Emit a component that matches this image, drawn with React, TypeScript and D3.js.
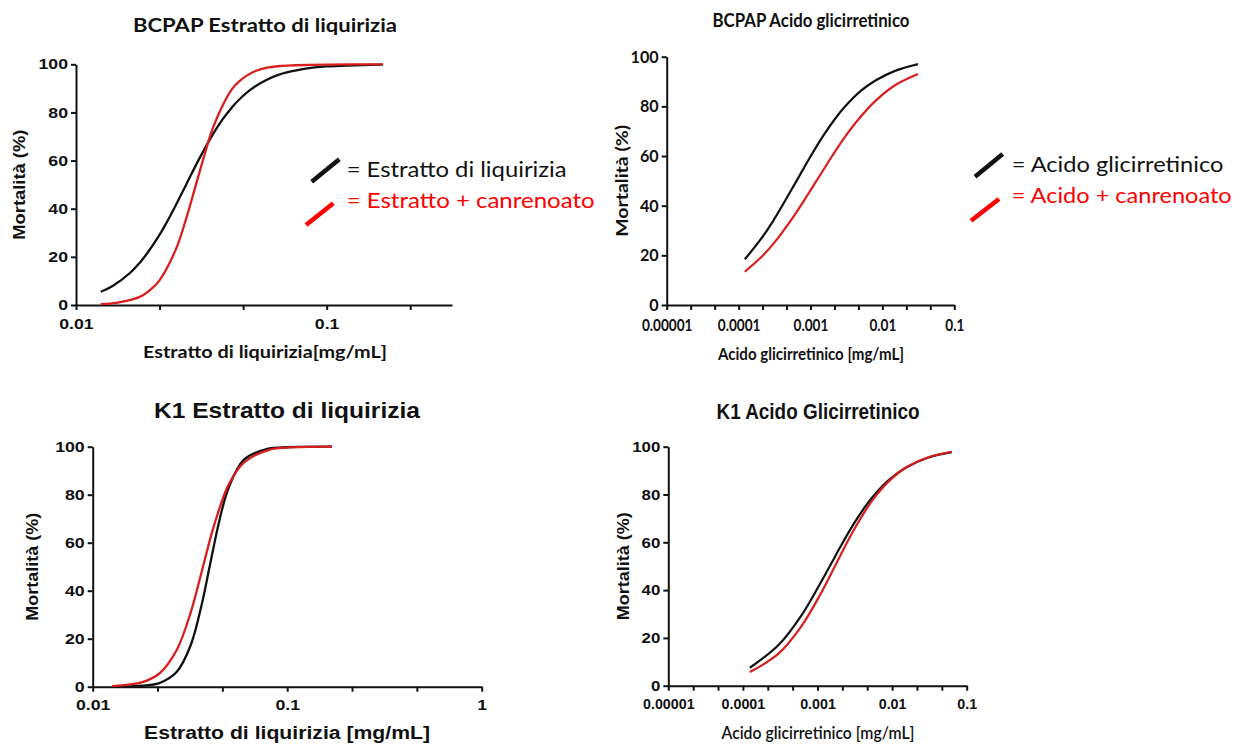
import React from "react";
import * as d3 from "d3";

// BCPAP - Estratto di liquirizia
const bcpapEstrattoConc = [0.01255, 0.014, 0.0165, 0.018, 0.0193, 0.0215, 0.023, 0.0246, 0.0275, 0.031, 0.035, 0.0385, 0.0421, 0.045, 0.05, 0.0572, 0.065, 0.075, 0.085, 0.1, 0.1675];
const bcpapEstrattoMort = [5.5, 7.9, 13.5, 17.7, 21.7, 29, 34.3, 40, 50, 60.7, 70.6, 77.2, 82.4, 85.6, 89.7, 93.4, 95.8, 97.4, 98.4, 99.1, 99.9];
const bcpapEstrattoCanConc = [0.01255, 0.0145, 0.0168, 0.0185, 0.02, 0.02146, 0.025, 0.0275, 0.0301, 0.0325, 0.035, 0.0385, 0.0421, 0.045, 0.048, 0.052, 0.0572, 0.065, 0.075, 0.1, 0.1675];
const bcpapEstrattoCanMort = [0.4, 0.9, 2.3, 4.1, 6.7, 10, 23, 35.8, 50, 62.1, 73, 83, 90, 93.1, 95.3, 97.2, 98.5, 99.3, 99.6, 99.9, 100];

// BCPAP - Acido glicirretinico
const bcpapAcidoConc = [0.000122, 0.0002, 0.0003, 0.00064, 0.001, 0.0015, 0.0022, 0.003, 0.005, 0.008, 0.015, 0.0313];
const bcpapAcidoMort = [18.4, 26.2, 33.7, 50, 59.8, 68.1, 75, 79.8, 86.2, 90.4, 94.3, 97];
const bcpapAcidoCanConc = [0.000122, 0.0002, 0.0003, 0.0006, 0.00121, 0.002, 0.003, 0.0045, 0.008, 0.015, 0.0313];
const bcpapAcidoCanMort = [13.4, 18.9, 24.4, 36.2, 50, 60, 67.6, 74.3, 82.2, 88.5, 93];

// K1 - Estratto di liquirizia
const k1EstrattoConc = [0.0126, 0.018, 0.022, 0.027, 0.032, 0.0365, 0.0399, 0.045, 0.05, 0.06, 0.08, 0.1, 0.17];
const k1EstrattoMort = [0, 0.4, 1.5, 6.1, 17.6, 34.9, 50, 69.9, 82.9, 94.6, 99.2, 99.8, 100];
const k1EstrattoCanConc = [0.0126, 0.018, 0.022, 0.027, 0.032, 0.0369, 0.042, 0.05, 0.06, 0.08, 0.1, 0.17];
const k1EstrattoCanMort = [0.2, 1.9, 5.5, 15.2, 31.3, 50, 67, 84.2, 93.5, 98.6, 99.6, 100];

// K1 - Acido glicirretinico
const k1AcidoConc = [0.000124, 0.0003, 0.0006, 0.00146, 0.002, 0.003, 0.0045, 0.006, 0.009, 0.015, 0.03, 0.063];
const k1AcidoMort = [7.5, 17, 29.1, 50, 57.8, 67.3, 75.5, 80.4, 86, 91.1, 95.4, 97.7];
const k1AcidoCanConc = [0.000124, 0.0003, 0.0006, 0.0011, 0.00171, 0.003, 0.0045, 0.006, 0.009, 0.015, 0.03, 0.063];
const k1AcidoCanMort = [5.7, 13.4, 24.6, 38.4, 50, 64.6, 73.8, 79.3, 85.5, 91.1, 95.5, 97.9];

// ticks
const yTicks = [0, 20, 40, 60, 80, 100];
const estrattoMajor = [0.01, 0.1];
const estrattoLabels = ["0.01", "0.1"];
const k1EstrattoMajor = [0.01, 0.1, 1];
const k1EstrattoLabels = ["0.01", "0.1", "1"];
const acidoMajor = [0.00001, 0.0001, 0.001, 0.01, 0.1];
const acidoLabels = ["0.00001", "0.0001", "0.001", "0.01", "0.1"];

const ARIAL = "'Liberation Sans', Arial, sans-serif";
const CALIBRI = "Lato, 'Open Sans', sans-serif";
const BLACK = "#111111";
const RED = "#d81e1e";

const zip = (a, b) => a.map((v, i) => [v, b[i]]);

const panels = [
  {
    id: "p1",
    left: 76, right: 452, top: 64.3, bottom: 305,
    xDomain: [0.01, Math.pow(10, -0.5)],
    xMajor: estrattoMajor, xLabels: estrattoLabels,
    black: zip(bcpapEstrattoConc, bcpapEstrattoMort),
    red: zip(bcpapEstrattoCanConc, bcpapEstrattoCanMort),
    tickFont: ARIAL, tickSize: 14.5, yStretch: 1.22, xStretch: 1.22, xPad: 9,
    axisWidth: 2, curveWidth: 2.3,
    yLabel: { x: 19, font: ARIAL, size: 16, len: 110 },
    title: { text: "BCPAP Estratto di liquirizia", x: 265, y: 32, w: 264, font: CALIBRI, size: 19, weight: "bold" },
    xTitle: { text: "Estratto di liquirizia[mg/mL]", x: 265, y: 358, w: 244, font: CALIBRI, size: 17, weight: "bold" },
    legend: {
      items: ["= Estratto di liquirizia", "= Estratto + canrenoato"],
      widths: [220, 248],
      lines: [[311.7, 181.7, 339.3, 159.3], [306, 225, 333.3, 203.3]],
      tx: 346.7, ty: [177.3, 208.3], size: 22,
    },
  },
  {
    id: "p2",
    left: 666.7, right: 954.3, top: 56.7, bottom: 305,
    xDomain: [0.00001, 0.1],
    xMajor: acidoMajor, xLabels: acidoLabels,
    black: zip(bcpapAcidoConc, bcpapAcidoMort),
    red: zip(bcpapAcidoCanConc, bcpapAcidoCanMort),
    tickFont: CALIBRI, tickSize: 17, yStretch: 0.95, xStretch: 0.8, xPad: 9,
    axisWidth: 2, curveWidth: 2.2,
    yLabel: { x: 622, font: CALIBRI, size: 17, len: 112 },
    title: { text: "BCPAP Acido glicirretinico", x: 811, y: 26.7, w: 197, font: CALIBRI, size: 19, weight: "bold" },
    xTitle: { text: "Acido glicirretinico [mg/mL]", x: 811, y: 360, w: 186, font: CALIBRI, size: 17.5, weight: "bold" },
    legend: {
      items: ["= Acido glicirretinico", "= Acido + canrenoato"],
      widths: [211.7, 220],
      lines: [[975, 176.7, 1002.7, 154], [971, 220.7, 999, 199]],
      tx: 1011.7, ty: [171.7, 203.3], size: 22,
    },
  },
  {
    id: "p3",
    left: 92.7, right: 481.7, top: 446.7, bottom: 686.7,
    xDomain: [0.01, 1],
    xMajor: k1EstrattoMajor, xLabels: k1EstrattoLabels,
    black: zip(k1EstrattoConc, k1EstrattoMort),
    red: zip(k1EstrattoCanConc, k1EstrattoCanMort),
    tickFont: ARIAL, tickSize: 14.5, yStretch: 1.22, xStretch: 1.22, xPad: 8,
    axisWidth: 2, curveWidth: 2.3,
    yLabel: { x: 32, font: ARIAL, size: 17, len: 108 },
    title: { text: "K1 Estratto di liquirizia", x: 287, y: 417.7, w: 266, font: ARIAL, size: 22, weight: "bold" },
    xTitle: { text: "Estratto di liquirizia [mg/mL]", x: 287, y: 739.3, w: 286, font: ARIAL, size: 18, weight: "bold" },
    legend: null,
  },
  {
    id: "p4",
    left: 668.3, right: 966.7, top: 446.7, bottom: 685.7,
    xDomain: [0.00001, 0.1],
    xMajor: acidoMajor, xLabels: acidoLabels,
    black: zip(k1AcidoConc, k1AcidoMort),
    red: zip(k1AcidoCanConc, k1AcidoCanMort),
    tickFont: ARIAL, tickSize: 15, yStretch: 1.12, xStretch: 0.95, xPad: 8,
    axisWidth: 2, curveWidth: 2.2,
    yLabel: { x: 623, font: ARIAL, size: 17, len: 108 },
    title: { text: "K1 Acido Glicirretinico", x: 818, y: 419.3, w: 203, font: ARIAL, size: 21.5, weight: "bold" },
    xTitle: { text: "Acido glicirretinico [mg/mL]", x: 818, y: 739, w: 193, font: CALIBRI, size: 18, weight: "600" },
    legend: null,
  },
];

function stretchText(sel, factor) {
  sel.each(function () {
    const len = this.getComputedTextLength();
    if (len > 0) {
      d3.select(this).attr("textLength", len * factor).attr("lengthAdjust", "spacingAndGlyphs");
    }
  });
}

function Panel({ cfg }) {
  const ref = React.useRef<SVGGElement>(null);

  React.useEffect(() => {
    const g = d3.select(ref.current);
    g.selectAll("*").remove();

    const x = d3.scaleLog().domain(cfg.xDomain).range([cfg.left, cfg.right]);
    const y = d3.scaleLinear().domain([0, 100]).range([cfg.bottom, cfg.top]);

    // major + minor ticks, three per decade
    const lo = Math.log10(cfg.xDomain[0]);
    const hi = Math.log10(cfg.xDomain[1]);
    const tickVals = d3.range(Math.round(lo * 3), Math.floor(hi * 3 + 1e-9) + 1).map((k) => Math.pow(10, k / 3));
    const fmt = (d) => {
      const i = cfg.xMajor.findIndex((m) => Math.abs(Math.log10(m) - Math.log10(d)) < 1e-6);
      return i >= 0 ? cfg.xLabels[i] : "";
    };

    const xg = g.append("g")
      .attr("transform", `translate(0,${cfg.bottom})`)
      .call(d3.axisBottom(x).tickValues(tickVals).tickFormat(fmt).tickSize(5).tickSizeOuter(0).tickPadding(cfg.xPad));
    const yg = g.append("g")
      .attr("transform", `translate(${cfg.left},0)`)
      .call(d3.axisLeft(y).tickValues(yTicks).tickSize(5).tickSizeOuter(0).tickPadding(3));

    [xg, yg].forEach((ax) => {
      ax.select(".domain").attr("stroke", BLACK).attr("stroke-width", cfg.axisWidth);
      ax.selectAll(".tick line").attr("stroke", BLACK).attr("stroke-width", cfg.axisWidth);
      ax.selectAll("text")
        .attr("fill", BLACK)
        .style("font-family", cfg.tickFont)
        .style("font-size", cfg.tickSize + "px")
        .style("font-weight", "bold");
    });
    stretchText(xg.selectAll("text"), cfg.xStretch);
    stretchText(yg.selectAll("text"), cfg.yStretch);

    const line = d3.line()
      .x((d) => x(d[0]))
      .y((d) => y(d[1]))
      .curve(d3.curveCatmullRom.alpha(0.5));

    g.append("path").datum(cfg.black)
      .attr("d", line).attr("fill", "none")
      .attr("stroke", BLACK).attr("stroke-width", cfg.curveWidth);
    g.append("path").datum(cfg.red)
      .attr("d", line).attr("fill", "none")
      .attr("stroke", RED).attr("stroke-width", cfg.curveWidth);

    // y label
    const yMid = (cfg.top + cfg.bottom) / 2;
    g.append("text")
      .attr("transform", `translate(${cfg.yLabel.x},${yMid}) rotate(-90)`)
      .attr("text-anchor", "middle")
      .attr("dy", "0.35em")
      .attr("textLength", cfg.yLabel.len)
      .attr("lengthAdjust", "spacingAndGlyphs")
      .style("font-family", cfg.yLabel.font)
      .style("font-size", cfg.yLabel.size + "px")
      .style("font-weight", "bold")
      .attr("fill", BLACK)
      .text("Mortalità (%)");

    [cfg.title, cfg.xTitle].forEach((t) => {
      g.append("text")
        .attr("x", t.x).attr("y", t.y)
        .attr("text-anchor", "middle")
        .attr("textLength", t.w)
        .attr("lengthAdjust", "spacingAndGlyphs")
        .style("font-family", t.font)
        .style("font-size", t.size + "px")
        .style("font-weight", t.weight)
        .attr("fill", BLACK)
        .text(t.text);
    });

    if (cfg.legend) {
      const lg = cfg.legend;
      const colors = [BLACK, "#ff0000"];
      lg.items.forEach((label, i) => {
        const [x1, y1, x2, y2] = lg.lines[i];
        g.append("line")
          .attr("x1", x1).attr("y1", y1).attr("x2", x2).attr("y2", y2)
          .attr("stroke", colors[i]).attr("stroke-width", 4.5);
        g.append("text")
          .attr("x", lg.tx).attr("y", lg.ty[i])
          .attr("textLength", lg.widths[i])
          .attr("lengthAdjust", "spacingAndGlyphs")
          .style("font-family", CALIBRI)
          .style("font-size", lg.size + "px")
          .attr("fill", i === 0 ? BLACK : "#ff0000")
          .text(label);
      });
    }
  }, [cfg]);

  return <g ref={ref} />;
}

export default function App() {
  return (
    <svg
      width={1246}
      height={745}
      style={{ position: "absolute", left: 0, top: 0, background: "#fff" }}
    >
      <rect width={1246} height={745} fill="#fff" />
      {panels.map((p) => (
        <Panel key={p.id} cfg={p} />
      ))}
    </svg>
  );
}
